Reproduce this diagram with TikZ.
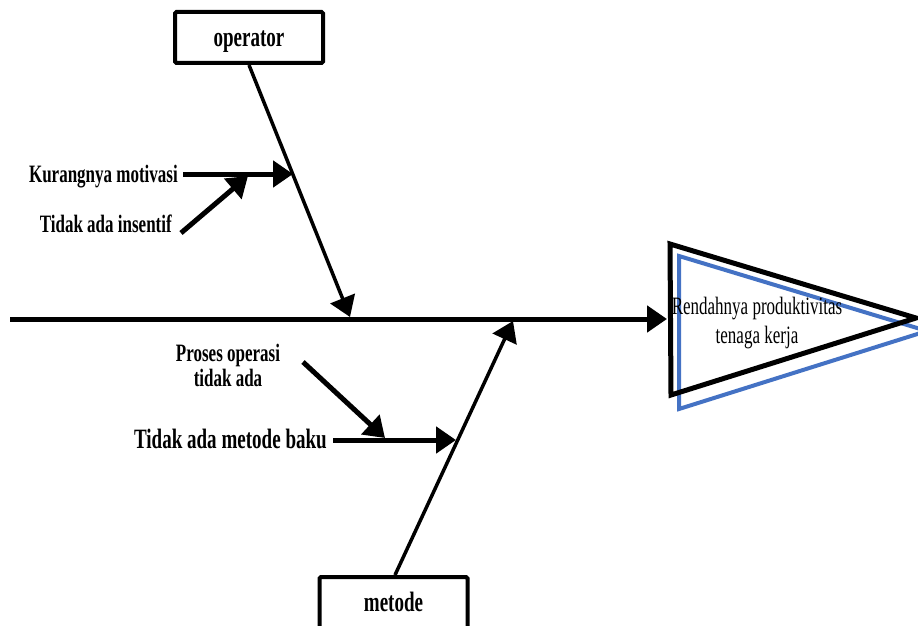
\documentclass[tikz,border=0pt]{standalone}
\usepackage{fontspec}
\setmainfont{Liberation Serif}
\newfontfamily\narrowserif[FakeStretch=0.68]{Liberation Serif}
\usetikzlibrary{arrows.meta}

\begin{document}
\begin{tikzpicture}[x=1pt,y=-1pt,
  spine/.style={line width=5pt},
  bone/.style={line width=3.5pt},
  sub/.style={line width=5pt},
  head/.style={-{Triangle[length=20pt,width=26pt]}},
  labelfont/.style={font=\narrowserif\bfseries\fontsize{25}{25}\selectfont},
  bigfont/.style={font=\narrowserif\bfseries\fontsize{28}{28}\selectfont},
  catbox/.style={draw, line width=4pt, rounded corners=1.5pt,
    minimum width=148pt, inner sep=0pt},
  cause/.style={labelfont, inner sep=0pt, align=center},
]
\useasboundingbox (0,0) rectangle (918,626);
\clip (0,0) rectangle (918,626);

% effect head: blue outline behind the black triangle
\draw[line width=4pt, draw={rgb,255:red,68;green,114;blue,196}, line join=miter]
  (679,256) -- (927,331) -- (679,409) -- cycle;
\draw[line width=5pt, line join=miter]
  (670,244) -- (916,318) -- (671,395) -- cycle;
\node[font=\narrowserif\fontsize{25}{29}\selectfont, align=center, inner sep=0pt]
  (effect) at (757,323) {Rendahnya produktivitas\\tenaga kerja};
\coordinate (effectin) at (667,319);

% category boxes with their titles
\node[catbox, minimum height=51pt] (opbox) at (249,37.5) {};
\node[bigfont, inner sep=0pt, anchor=base] (optitle) at (249,47) {operator};
\node[catbox, minimum height=56pt] (mbox) at (393.5,605) {};
\node[bigfont, inner sep=0pt, anchor=base] (mtitle) at (393.5,611) {metode};

% spine
\coordinate (tail) at (10,319);
\draw[spine, head] (tail) -- (effectin);

% main bones
\coordinate (opend) at (350,317);
\coordinate (mend) at (513,321);
\draw[bone, head] (opbox.south) -- (opend);
\draw[bone, head] ([xshift=1.5pt]mbox.north) -- (mend);

% causes on the operator bone
\node[cause, anchor=base east] (kur) at (178,182) {Kurangnya motivasi};
\node[cause, anchor=base east] (ins) at (172,232) {Tidak ada insentif};
\coordinate (kurstart) at (183,174);
\coordinate (kurend) at (293,174);
\coordinate (insstart) at (181,233);
\coordinate (insend) at (248,176);
\draw[sub, head] (kurstart) -- (kurend);
\draw[sub, head] (insstart) -- (insend);

% causes on the metode bone
\node[cause, bigfont, anchor=base east] (baku) at (327,448) {Tidak ada metode baku};
\node[cause] (proses) at (228,365) {Proses operasi\\tidak ada};
\coordinate (bakustart) at (333,440);
\coordinate (bakuend) at (456,440);
\coordinate (prosesstart) at (303,362);
\coordinate (prosesend) at (385,438);
\draw[sub, head] (bakustart) -- (bakuend);
\draw[sub, head] (prosesstart) -- (prosesend);
\end{tikzpicture}
\end{document}
